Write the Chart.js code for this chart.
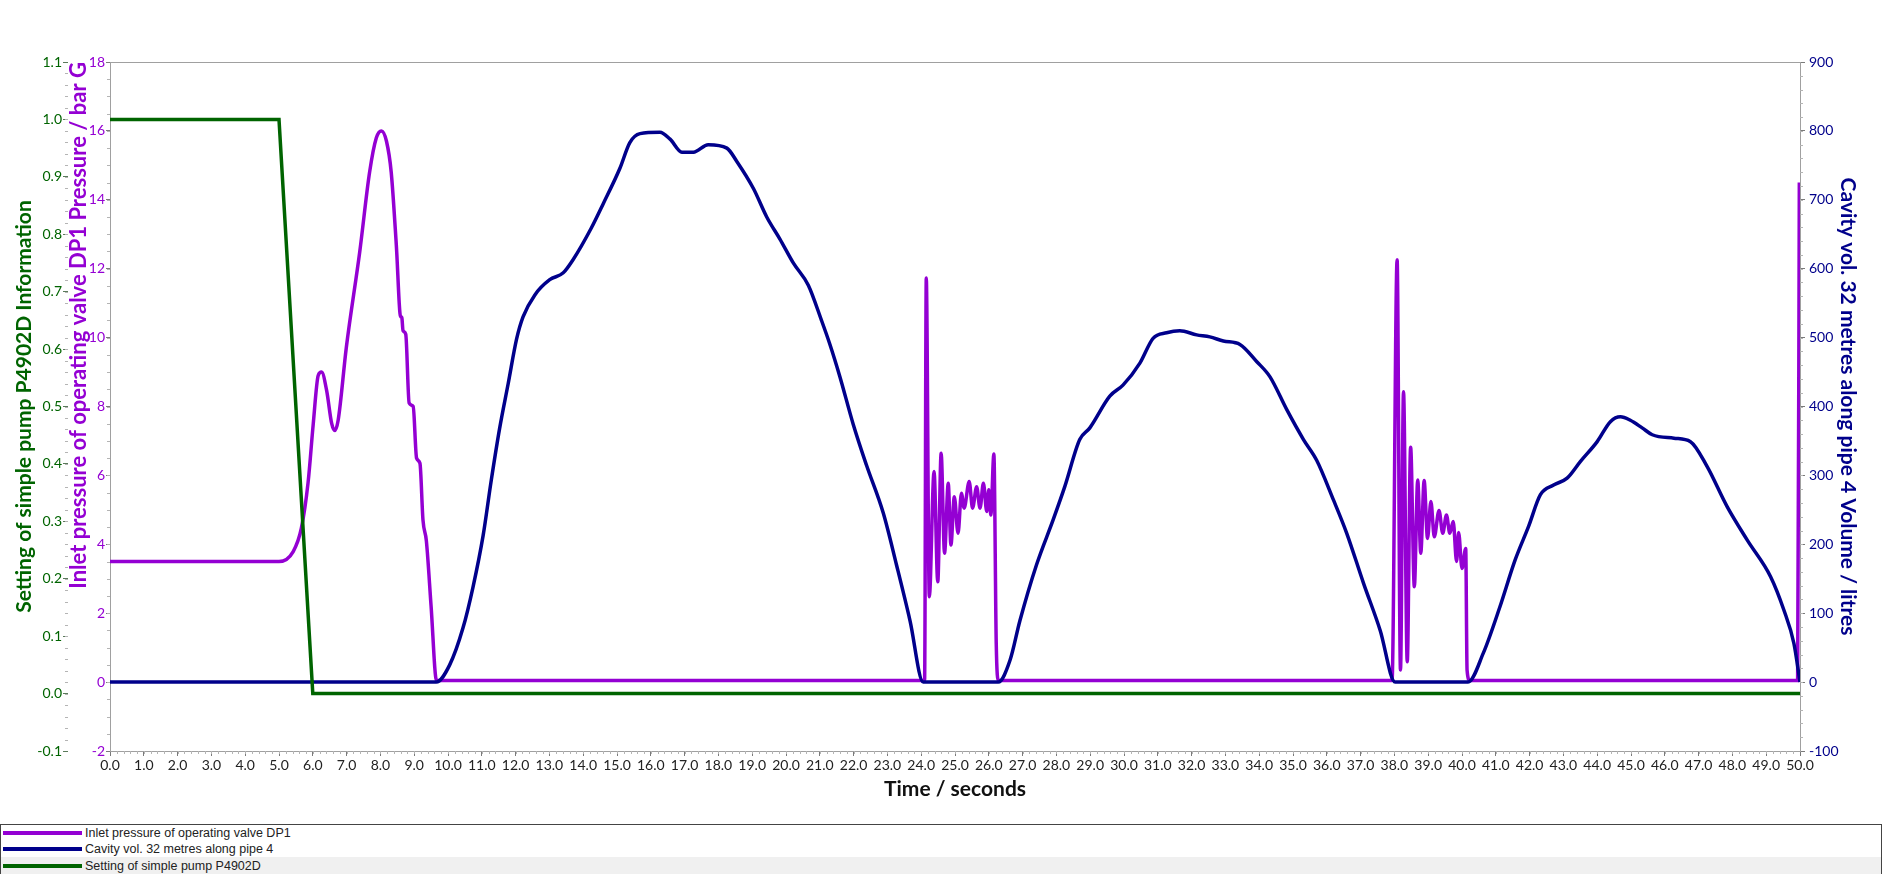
<!DOCTYPE html>
<html>
<head>
<meta charset="utf-8">
<title>Pump trip transient</title>
<script src="https://cdn.jsdelivr.net/npm/chart.js@4.4.1/dist/chart.umd.min.js"></script>
<style>
  html, body { margin: 0; padding: 0; background: #fff; }
  #wrap { position: relative; width: 1884px; height: 822px; }
  #legend {
    position: absolute; top: 824px; left: 0; width: 1880px; height: 49px;
    border: 1px solid #444; border-bottom: none;
    font-family: 'Liberation Sans', Arial, sans-serif; font-size: 12.5px; color: #222;
  }
  .row { height: 16px; display: flex; align-items: center; }
  .row.alt { height: 18px; background: #f0f0f0; }
  .swatch { width: 79px; height: 4px; margin: 0 3px 0 2px; }
</style>
</head>
<body>
<div id="wrap"><canvas id="transientChart"></canvas></div>
<div id="legend"></div>

<script>
// time axis 0..50 s
const timeMin = 0, timeMax = 50;

// Inlet pressure of operating valve DP1 (bar G)
const pressureTime = [
  0, 5.0, 5.42, 5.66, 5.86, 6.01, 6.16, 6.26, 6.41, 6.56, 6.65, 6.75, 6.99, 7.39, 7.68, 7.88,
  8.03, 8.18, 8.32, 8.47, 8.6, 8.63, 8.67, 8.75, 8.85, 8.97, 9.07, 9.17, 9.26, 9.36, 9.5, 9.66,
  24.1, 24.15, 24.24, 24.38, 24.49, 24.59, 24.69, 24.8, 24.88, 24.98, 25.09, 25.19, 25.27,
  25.42, 25.52, 25.64, 25.74, 25.84, 25.94, 26.0, 26.06, 26.15, 26.22, 26.28,
  37.93, 38.08, 38.18, 38.27, 38.38, 38.48, 38.59, 38.69, 38.78, 38.88, 38.98, 39.08, 39.18,
  39.32, 39.43, 39.54, 39.64, 39.74, 39.84, 39.9, 40.0, 40.11, 40.15, 40.23,
  49.93, 49.98
];
const pressureValue = [
  3.5, 3.5, 3.79, 4.46, 5.79, 7.46, 8.9, 9.0, 8.46, 7.5, 7.3, 7.6, 9.7, 12.5, 14.8, 15.8,
  16.0, 15.7, 14.8, 12.7, 10.6, 10.6, 10.2, 10.1, 8.1, 8.0, 6.5, 6.35, 4.7, 4.1, 2.2, 0.05,
  0.05, 11.73, 2.48, 6.11, 2.91, 6.64, 3.74, 5.77, 3.98, 5.38, 4.32, 5.48, 5.05,
  5.82, 5.05, 5.67, 5.05, 5.77, 4.95, 5.58, 4.85, 6.62, 1.12, 0.05,
  0.05, 12.26, 0.35, 8.43, 0.59, 6.82, 2.77, 5.87, 3.74, 5.85, 4.17, 5.24, 4.22,
  4.98, 4.32, 4.85, 4.32, 4.66, 3.5, 4.34, 3.3, 3.88, 0.35, 0.05,
  0.05, 14.5
];

// Cavity vol. 32 metres along pipe 4 (litres)
const cavityTime = [
  0, 9.65, 10.05, 10.44, 10.74, 11.04, 11.28, 11.53, 11.78, 12.03, 12.22, 12.57, 13.01, 13.41,
  13.7, 14.24, 14.59, 15.08, 15.38, 15.68, 16.27, 16.57, 16.92, 17.26, 17.7, 18.25, 18.54,
  19.04, 19.43, 19.82, 20.22, 20.66, 21.05, 21.3, 21.59, 21.99, 22.38, 22.88, 23.27, 23.67, 24.06,
  26.28, 26.63, 26.92, 27.41, 27.9, 28.25, 28.69, 28.99, 29.58, 29.97, 30.47, 30.86, 31.26,
  31.65, 32.15, 32.54, 32.94, 33.43, 33.93, 34.32, 34.82, 35.31, 35.7, 36.2, 36.59, 37.09,
  37.58, 38.02,
  40.18, 40.63, 41.12, 41.57, 41.97, 42.32, 42.71, 43.11, 43.5, 44.0, 44.39, 44.69, 44.98,
  45.33, 45.63, 46.27, 46.76, 47.25, 47.84, 48.44, 49.13, 49.52, 49.82, 50.0
];
const cavityValue = [
  0, 0, 25, 78, 138, 213, 293, 369, 433, 498, 530, 562, 584, 594,
  613, 659, 694, 745, 783, 796, 798, 788, 769, 769, 780, 775, 756,
  716, 675, 643, 608, 576, 525, 490, 444, 374, 315, 245, 170, 89, 0,
  0, 32, 89, 170, 235, 284, 352, 369, 415, 431, 463, 499, 507,
  510, 504, 501, 495, 490, 465, 443, 395, 352, 322, 264, 216, 143,
  75, 0,
  0, 42, 109, 177, 226, 272, 286, 296, 320, 349, 378, 385, 380,
  369, 359, 354, 349, 313, 255, 206, 153, 105, 56, 0
];

// Setting of simple pump P4902D
const pumpTime = [0, 5.0, 6.0, 50];
const pumpSetting = [1.0, 1.0, 0.0, 0.0];

// minor tick spacing per axis
const minorSteps = { x: 0.2, yPressure: 0.5, yPump: 0.02, yCavity: 20 };

const purple = '#9400d3';
const navy = '#00008b';
const green = '#006400';

function pairs(xs, ys) {
  return xs.map((t, i) => ({ x: t, y: ys[i] }));
}

// box round the plot area
const plotFrame = {
  id: 'plotFrame',
  beforeDatasetsDraw(chart) {
    const a = chart.chartArea;
    const ctx = chart.ctx;
    ctx.save();
    ctx.strokeStyle = '#a0a0a0';
    ctx.lineWidth = 1;
    ctx.strokeRect(Math.round(a.left) + 0.5, Math.round(a.top) + 0.5,
      Math.round(a.right - a.left), Math.round(a.bottom - a.top));
    ctx.restore();
  }
};

// small ticks between the labelled ones
const minorTicks = {
  id: 'minorTicks',
  afterDraw(chart) {
    const ctx = chart.ctx;
    ctx.save();
    ctx.strokeStyle = '#b4b4b4';
    ctx.lineWidth = 1;
    Object.keys(minorSteps).forEach(id => {
      const scale = chart.scales[id];
      const step = minorSteps[id];
      const n = Math.round((scale.max - scale.min) / step);
      ctx.beginPath();
      for (let i = 1; i < n; i++) {
        const p = Math.round(scale.getPixelForValue(scale.min + i * step)) + 0.5;
        if (scale.isHorizontal()) {
          ctx.moveTo(p, scale.top); ctx.lineTo(p, scale.top + 3);
        } else if (scale.position === 'left') {
          ctx.moveTo(scale.right - 3, p); ctx.lineTo(scale.right, p);
        } else {
          ctx.moveTo(scale.left, p); ctx.lineTo(scale.left + 3, p);
        }
      }
      ctx.stroke();
    });
    ctx.restore();
  }
};

const tickFont = { family: 'Lato', size: 14 };
const titleFont = { family: 'Lato', size: 21, weight: 'bold', lineHeight: 1 };

const ctx = document.getElementById('transientChart').getContext('2d');
const transientChart = new Chart(ctx, {
  type: 'line',
  data: {
    datasets: [{
      label: 'Inlet pressure of operating valve DP1',
      data: pairs(pressureTime, pressureValue),
      yAxisID: 'yPressure',
      borderColor: purple,
      borderWidth: 3.5,
      cubicInterpolationMode: 'monotone',
      order: 2
    }, {
      label: 'Cavity vol. 32 metres along pipe 4',
      data: pairs(cavityTime, cavityValue),
      yAxisID: 'yCavity',
      borderColor: navy,
      borderWidth: 3.5,
      cubicInterpolationMode: 'monotone',
      order: 1
    }, {
      label: 'Setting of simple pump P4902D',
      data: pairs(pumpTime, pumpSetting),
      yAxisID: 'yPump',
      borderColor: green,
      borderWidth: 3.5,
      order: 0
    }]
  },
  options: {
    responsive: true,
    maintainAspectRatio: false,
    animation: false,
    elements: { point: { radius: 0 }, line: { fill: false } },
    layout: { padding: { top: 62, left: 0, right: 0, bottom: 0 } },
    plugins: {
      legend: { display: false },
      tooltip: { enabled: false }
    },
    scales: {
      x: {
        type: 'linear',
        position: 'bottom',
        min: timeMin,
        max: timeMax,
        border: { display: false },
        grid: { drawOnChartArea: false, tickLength: 5, tickColor: '#7a7a7a' },
        ticks: {
          stepSize: 1, autoSkip: false, maxRotation: 0, padding: 1,
          color: '#222', font: tickFont,
          callback: v => v.toFixed(1)
        },
        title: {
          display: true, text: 'Time / seconds', color: '#111', font: titleFont,
          padding: { top: 0, bottom: 22 }
        },
        afterFit: s => { s.height = 71; }
      },
      yPressure: {
        type: 'linear',
        position: 'left',
        weight: 0,
        min: -2,
        max: 18,
        border: { display: false },
        grid: { drawOnChartArea: false, tickLength: 4, tickColor: '#7a7a7a' },
        ticks: { stepSize: 2, autoSkip: false, padding: 1, color: purple, font: tickFont },
        title: {
          display: true, align: 'end',
          text: 'Inlet pressure of operating valve DP1 Pressure / bar G',
          color: purple, font: { family: 'Lato', size: 22, weight: 'bold', lineHeight: 1 },
          padding: { top: 0, bottom: 0 }
        },
        afterFit: s => { s.width = 42; }
      },
      yPump: {
        type: 'linear',
        position: 'left',
        weight: 1,
        min: -0.1,
        max: 1.1,
        border: { display: false },
        grid: { drawOnChartArea: false, tickLength: 5, tickColor: '#5a7a5a' },
        ticks: {
          stepSize: 0.1, autoSkip: false, padding: 1, color: green, font: tickFont,
          callback: v => v.toFixed(1)
        },
        title: {
          display: true, text: 'Setting of simple pump P4902D Information',
          color: green, font: titleFont, padding: { top: 14, bottom: 0 }
        },
        afterFit: s => { s.width = 68; }
      },
      yCavity: {
        type: 'linear',
        position: 'right',
        min: -100,
        max: 900,
        border: { display: false },
        grid: { drawOnChartArea: false, tickLength: 5, tickColor: '#7a7a7a' },
        ticks: { stepSize: 100, autoSkip: false, padding: 4, color: navy, font: tickFont },
        title: {
          display: true, text: 'Cavity vol. 32 metres along pipe 4 Volume / litres',
          color: navy, font: titleFont, padding: { top: 26, bottom: 0 }
        },
        afterFit: s => { s.width = 84; }
      }
    }
  },
  plugins: [plotFrame, minorTicks]
});

// legend list under the chart, one series per row
const legendBox = document.getElementById('legend');
transientChart.data.datasets.forEach((ds, i) => {
  const row = document.createElement('div');
  row.className = i === 2 ? 'row alt' : 'row';
  const sw = document.createElement('span');
  sw.className = 'swatch';
  sw.style.background = ds.borderColor;
  const txt = document.createElement('span');
  txt.textContent = ds.label;
  row.appendChild(sw);
  row.appendChild(txt);
  legendBox.appendChild(row);
});
</script>
</body>
</html>
